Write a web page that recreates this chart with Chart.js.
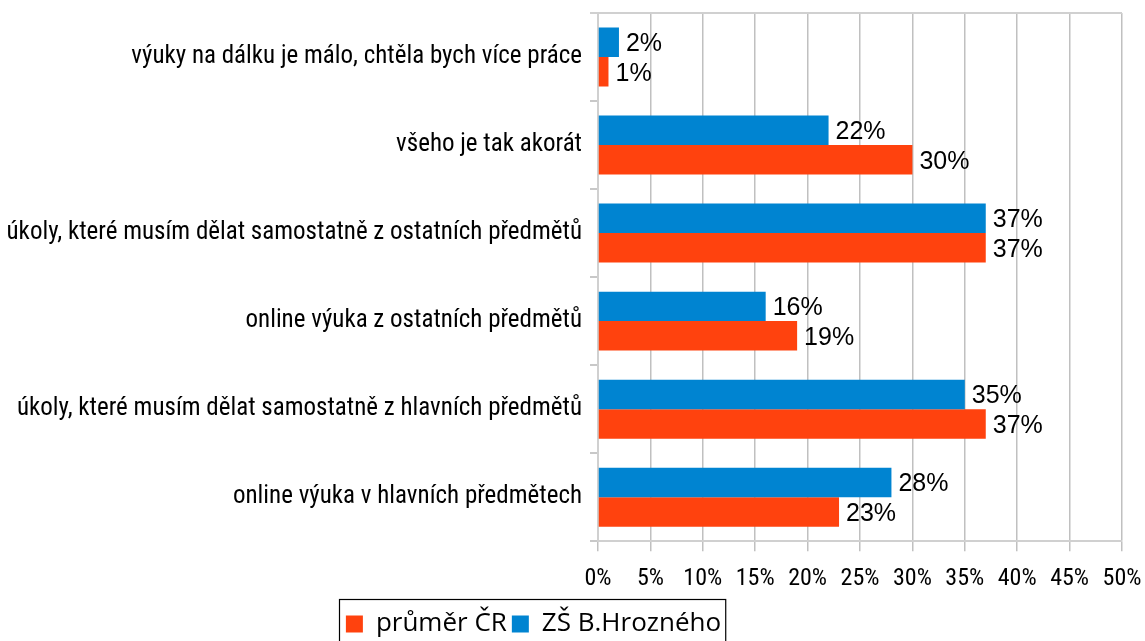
<!DOCTYPE html>
<html>
<head>
<meta charset="utf-8">
<script src="https://cdn.jsdelivr.net/npm/chart.js@4"></script>
<style>
  html, body { margin: 0; padding: 0; background: #fff; }
  #wrap { width: 1145px; height: 641px; }
</style>
</head>
<body>
<div id="wrap"><canvas id="myChart"></canvas></div>
<script>
const categories = [
  "výuky na dálku je málo, chtěla bych více práce",
  "všeho je tak akorát",
  "úkoly, které musím dělat samostatně z ostatních předmětů",
  "online výuka z ostatních předmětů",
  "úkoly, které musím dělat samostatně z hlavních předmětů",
  "online výuka v hlavních předmětech"
];
const skolaValues = [2, 22, 37, 16, 35, 28];
const prumerValues = [1, 30, 37, 19, 37, 23];
const xTicks = [0, 5, 10, 15, 20, 25, 30, 35, 40, 45, 50];

const NARROW = "'Roboto Condensed', 'Liberation Sans Narrow', sans-serif";
const WIDE = "'Open Sans', 'Noto Sans', sans-serif";
const LABEL = "'Liberation Sans', Arial, sans-serif";

// value labels at the end of each bar
const barLabels = {
  id: 'barLabels',
  afterDatasetsDraw(chart) {
    const ctx = chart.ctx;
    ctx.save();
    ctx.font = '25px ' + LABEL;
    ctx.fillStyle = '#000';
    ctx.textBaseline = 'middle';
    ctx.textAlign = 'left';
    chart.data.datasets.forEach((ds, i) => {
      chart.getDatasetMeta(i).data.forEach((bar, j) => {
        ctx.fillText(ds.data[j] + '%', bar.x + 7, bar.y + 2);
      });
    });
    ctx.restore();
  }
};

// shift legend left, draw top frame line and legend border
const frame = {
  id: 'frame',
  afterLayout(chart) {
    chart.legend.right -= 78;
  },
  afterDraw(chart) {
    const ctx = chart.ctx;
    const a = chart.chartArea;
    ctx.save();
    ctx.strokeStyle = '#d0d0d0';
    ctx.lineWidth = 2;
    ctx.beginPath();
    ctx.moveTo(a.left - 8, a.top);
    ctx.lineTo(a.right, a.top);
    ctx.stroke();
    const lg = chart.legend;
    const w = (lg.lineWidths && lg.lineWidths[0]) || 380;
    const cx = (lg.left + lg.right) / 2;
    const l = Math.round(cx - w / 2) - 4;
    ctx.strokeStyle = '#000';
    ctx.lineWidth = 1.2;
    ctx.strokeRect(l + 0.5, Math.round(lg.top) - 6.5, w + 6, 70);
    ctx.restore();
  }
};

new Chart(document.getElementById('myChart'), {
  type: 'bar',
  data: {
    labels: categories,
    datasets: [
      {
        label: 'ZŠ B.Hrozného',
        data: skolaValues,
        backgroundColor: '#0084d1',
        categoryPercentage: 0.67,
        barPercentage: 1.0
      },
      {
        label: 'průměr ČR',
        data: prumerValues,
        backgroundColor: '#ff420e',
        categoryPercentage: 0.67,
        barPercentage: 1.0
      }
    ]
  },
  options: {
    indexAxis: 'y',
    responsive: true,
    maintainAspectRatio: false,
    animation: false,
    layout: {
      padding: { top: 13, right: 0, left: 0, bottom: -6 }
    },
    plugins: {
      legend: {
        position: 'bottom',
        reverse: true,
        labels: {
          color: '#000',
          font: { family: WIDE, size: 26 },
          boxWidth: 17,
          boxHeight: 17,
          padding: 5
        }
      },
      tooltip: { enabled: false }
    },
    scales: {
      x: {
        min: 0,
        max: 50,
        afterBuildTicks(axis) {
          axis.ticks = xTicks.map(v => ({ value: v }));
        },
        afterFit(axis) {
          axis.paddingRight = 23;
          axis.paddingLeft = 0;
        },
        ticks: {
          color: '#000',
          font: { family: NARROW, size: 24 },
          padding: 13,
          maxRotation: 0,
          callback: v => v + '%'
        },
        grid: {
          color: '#c0c0c0',
          lineWidth: 1.5,
          tickLength: 10
        },
        border: { color: '#d0d0d0', width: 2 }
      },
      y: {
        afterFit(axis) {
          axis.width = 598;
          axis.paddingTop = 0;
          axis.paddingBottom = 0;
        },
        ticks: {
          color: '#000',
          font: { family: NARROW, size: 25 },
          padding: 8
        },
        grid: {
          offset: true,
          drawOnChartArea: false,
          color: '#c8c8c8',
          lineWidth: 2,
          tickLength: 8
        },
        border: { color: '#d0d0d0', width: 2 }
      }
    }
  },
  plugins: [barLabels, frame]
});
</script>
</body>
</html>
